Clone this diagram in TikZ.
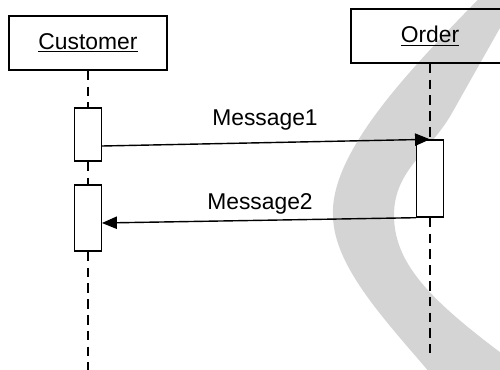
\documentclass[tikz,border=0pt]{standalone}
\usepackage{fontspec}
\setmainfont{Liberation Sans}
\usetikzlibrary{arrows.meta}
\definecolor{bandgray}{RGB}{212,212,212}
\begin{document}
\begin{tikzpicture}[x=0.02cm,y=-0.02cm,
  obj/.style={draw, line width=0.8pt, minimum width=3.16cm, minimum height=1.08cm, inner sep=0pt, font=\fontsize{13}{15}\selectfont},
  act/.style={draw, fill=white, line width=0.8pt, minimum width=0.53cm, inner sep=0pt},
  life/.style={line width=0.8pt, dash pattern=on 5.5pt off 3.5pt},
  msg/.style={line width=0.8pt, -{Triangle[length=8.5pt,width=7pt]}},
  lbl/.style={font=\fontsize{13}{15}\selectfont, inner sep=0pt}]
\useasboundingbox (0,0) rectangle (500,369);
\clip (0,0) rectangle (500,369);
% background band
\fill[bandgray] (490,-13) .. controls (430,50) and (330,145) .. (333,215)
  .. controls (333,270) and (395,330) .. (440,385) -- (545,385)
  .. controls (440,310) and (394,270) .. (394,215)
  .. controls (394,170) and (430,152) .. (452,113) -- (527,-20) -- cycle;
% objects
\node[obj] (cust) at (88,43) {\underline{Customer}};
\node[obj] (ord) at (430,36) {\underline{Order}};
% activations
\node[act, minimum height=1.06cm] (ca1) at (88,134.5) {};
\node[act, minimum height=1.32cm] (ca2) at (88,218) {};
\node[act, minimum height=1.54cm] (oa) at (430,178.5) {};
\coordinate (custend) at (88,372);
\coordinate (ordend) at (430,353);
% lifelines
\draw[life] (cust.south) -- (ca1.north);
\draw[life] (ca1.south) -- (ca2.north);
\draw[life] (ca2.south) -- (custend);
\draw[life] (ord.south) -- (oa.north);
\draw[life] (oa.south) -- (ordend);
% messages
\draw[msg] ([yshift=-0.23cm]ca1.east) -- (oa.north);
\draw[msg] (oa.south west) -- ([yshift=-0.1cm]ca2.east);
\node[lbl] (m1) at (265,120) {Message1};
\node[lbl] (m2) at (260,204) {Message2};
\end{tikzpicture}
\end{document}
